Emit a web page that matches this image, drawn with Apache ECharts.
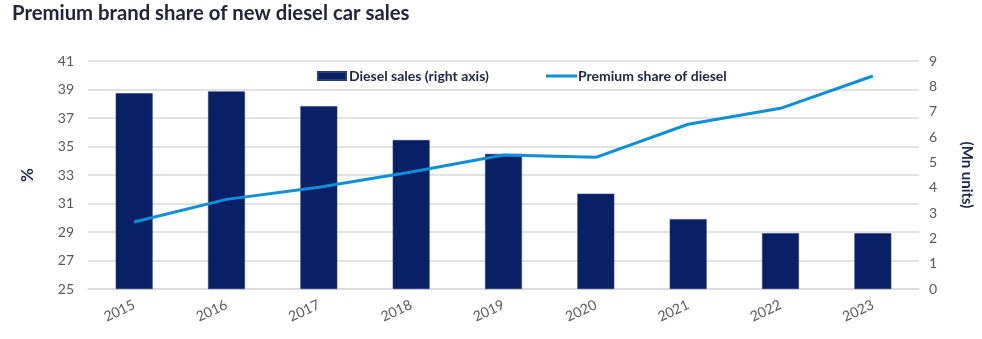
<!DOCTYPE html>
<html>
<head>
<meta charset="utf-8">
<script src="https://cdn.jsdelivr.net/npm/echarts@6/dist/echarts.min.js"></script>
<style>
  html, body { margin: 0; padding: 0; background: #ffffff; }
  #chart { width: 982px; height: 339px; }
</style>
</head>
<body>
<div id="chart"></div>
<script>
// Years on the category axis
const years = ['2015', '2016', '2017', '2018', '2019', '2020', '2021', '2022', '2023'];
// Diesel car sales, millions of units (right axis)
const dieselSales = [7.73, 7.80, 7.22, 5.88, 5.33, 3.76, 2.76, 2.20, 2.20];
// Premium brands' share of diesel sales, % (left axis)
const premiumShare = [29.70, 31.29, 32.14, 33.21, 34.40, 34.24, 36.56, 37.68, 39.95];
// Axis ranges
const leftMin = 25, leftMax = 41, leftStep = 2;
const rightMin = 0, rightMax = 9, rightStep = 1;

const FONT = 'Lato, "Open Sans", sans-serif';
const NAVY = '#0a2066';
const BLUE = '#0e8fd9';
const TEXT_DARK = '#1f2547';
const GRID = '#d9d9d9';
const LABEL = '#595959';

const chart = echarts.init(document.getElementById('chart'), null, { renderer: 'canvas' });

chart.setOption({
  animation: false,
  backgroundColor: '#ffffff',
  textStyle: { fontFamily: FONT },
  title: {
    text: 'Premium brand share of new diesel car sales',
    left: 7,
    top: -2,
    textStyle: { fontFamily: FONT, fontWeight: 'bold', fontSize: 20.3, color: '#22253a' }
  },
  legend: [
    {
      left: 312, top: 64,
      itemWidth: 28, itemHeight: 8, itemGap: 0,
      data: [{ name: 'Diesel sales (right axis)', icon: 'rect' }],
      textStyle: { fontFamily: FONT, fontWeight: 'bold', fontSize: 14, color: TEXT_DARK, padding: [0, 0, 0, -2] }
    },
    {
      left: 541, top: 64,
      itemWidth: 31, itemHeight: 3, itemGap: 0,
      data: [{ name: 'Premium share of diesel', icon: 'rect' }],
      textStyle: { fontFamily: FONT, fontWeight: 'bold', fontSize: 14, color: TEXT_DARK, padding: [0, 0, 0, -4] }
    }
  ],
  grid: { left: 88, right: 57, top: 61, bottom: 50, containLabel: false },
  xAxis: {
    type: 'category',
    data: years,
    axisLine: { show: true, lineStyle: { color: GRID, width: 1.5 } },
    axisTick: { show: false },
    axisLabel: { rotate: 25, margin: 15, fontFamily: FONT, fontSize: 14, color: LABEL }
  },
  yAxis: [
    {
      type: 'value',
      min: leftMin, max: leftMax, interval: leftStep,
      position: 'left',
      name: '%',
      nameLocation: 'middle',
      nameGap: 52,
      nameRotate: 90,
      nameTextStyle: { fontFamily: FONT, fontWeight: 'bold', fontSize: 17, color: TEXT_DARK },
      axisLine: { show: false },
      axisTick: { show: false },
      axisLabel: { margin: 14, fontFamily: FONT, fontSize: 14, color: LABEL },
      splitLine: { show: true, lineStyle: { color: GRID, width: 1.5 } }
    },
    {
      type: 'value',
      min: rightMin, max: rightMax, interval: rightStep,
      position: 'right',
      name: '(Mn units)',
      nameLocation: 'middle',
      nameGap: 40,
      nameRotate: -90,
      nameTextStyle: { fontFamily: FONT, fontWeight: 'bold', fontSize: 15, color: TEXT_DARK },
      axisLine: { show: false },
      axisTick: { show: false },
      axisLabel: { margin: 10, fontFamily: FONT, fontSize: 14, color: LABEL },
      splitLine: { show: false }
    }
  ],
  series: [
    {
      name: 'Diesel sales (right axis)',
      type: 'bar',
      yAxisIndex: 1,
      data: dieselSales,
      barWidth: '40%',
      itemStyle: { color: NAVY, borderColor: '#2a3c7e', borderWidth: 0.6 },
      z: 2
    },
    {
      name: 'Premium share of diesel',
      type: 'line',
      yAxisIndex: 0,
      data: premiumShare,
      symbol: 'none',
      lineStyle: { color: BLUE, width: 3 },
      itemStyle: { color: BLUE },
      z: 3
    }
  ]
});
</script>
</body>
</html>
